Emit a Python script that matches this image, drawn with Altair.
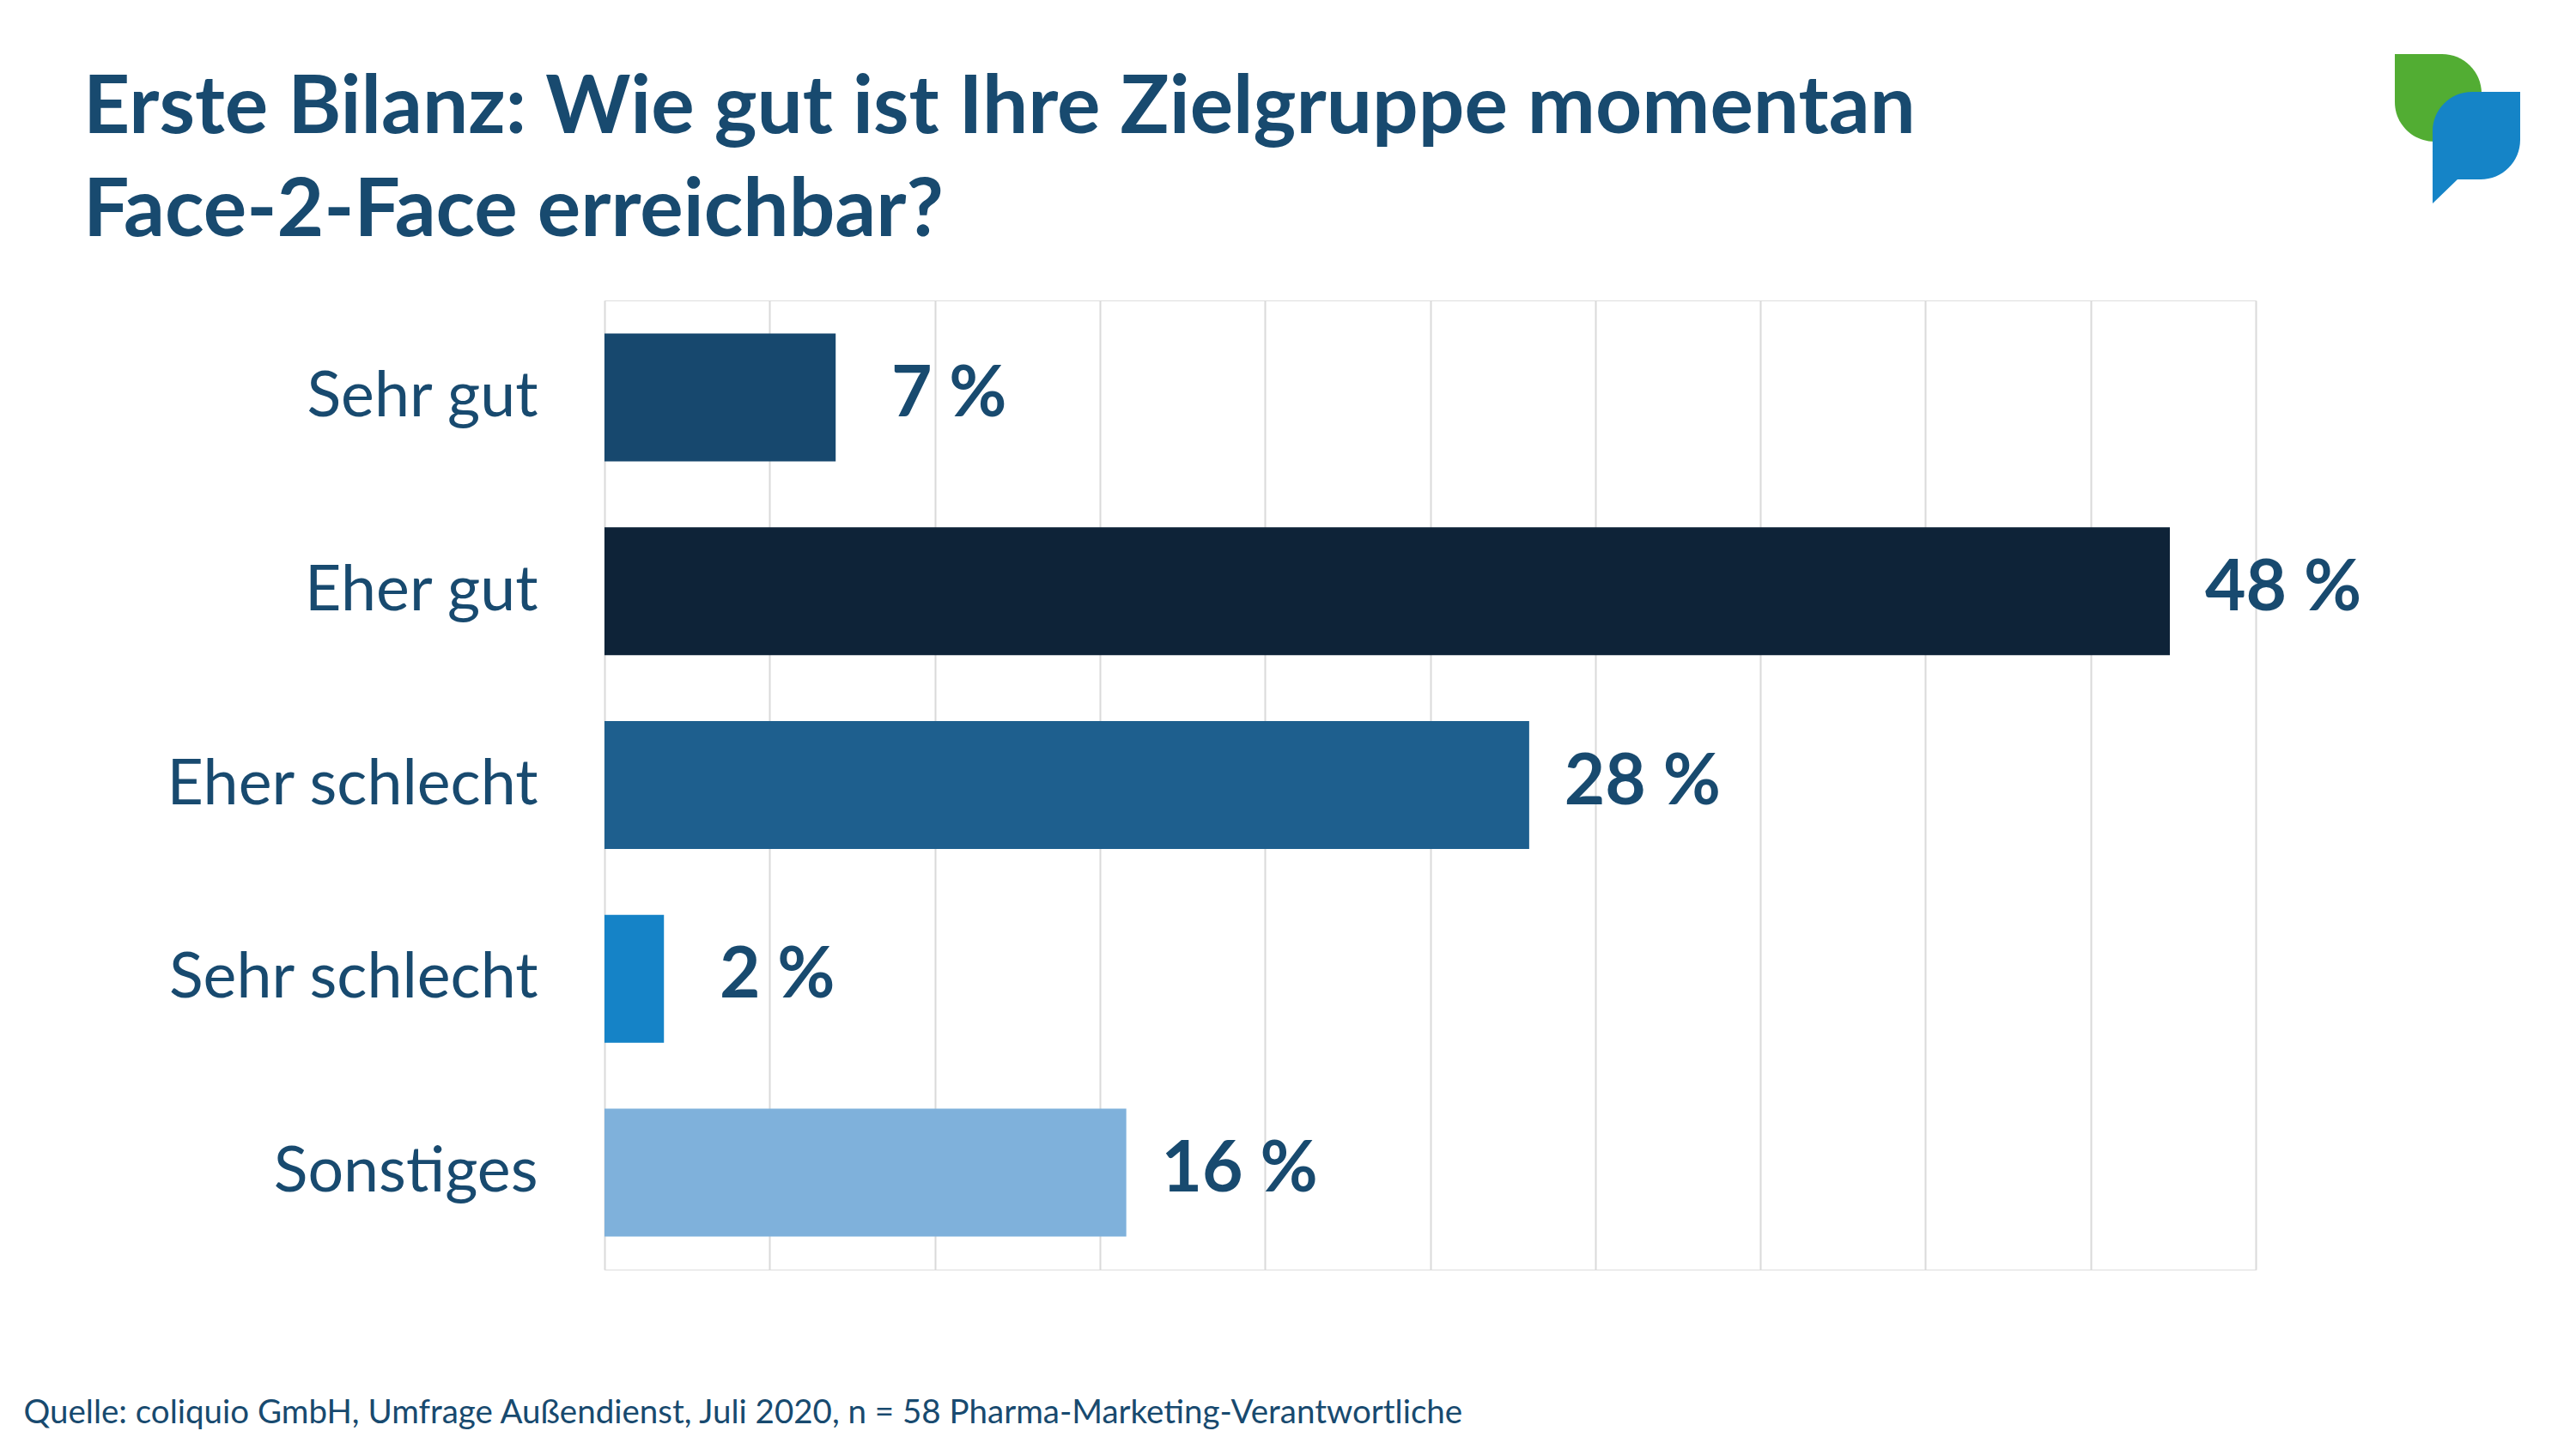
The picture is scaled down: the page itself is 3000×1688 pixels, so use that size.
import altair as alt
import pandas as pd

categories = ["Sehr gut", "Eher gut", "Eher schlecht", "Sehr schlecht", "Sonstiges"]
values = [7.0, 47.4, 28.0, 1.8, 15.8]
value_labels = ["7 %", "48 %", "28 %", "2 %", "16 %"]
bar_colors = ["#17486e", "#0e2338", "#1e5f8e", "#1583c7", "#7fb1db"]

title_lines = ["Erste Bilanz: Wie gut ist Ihre Zielgruppe momentan", "Face-2-Face erreichbar?"]
source_text = "Quelle: coliquio GmbH, Umfrage Außendienst, Juli 2020, n = 58 Pharma-Marketing-Verantwortliche"

TEXT_COLOR = "#184a6f"
FONT = "Lato"

df = pd.DataFrame({"cat": categories, "val": values, "lab": value_labels, "col": bar_colors})

W, H = 1923, 1129

y_enc = alt.Y(
    "cat:N",
    sort=categories,
    scale=alt.Scale(paddingInner=0.34, paddingOuter=0.17),
    axis=alt.Axis(
        title=None, domain=False, ticks=False, tickSize=0, labelPadding=78,
        labelFont=FONT, labelFontSize=73.5, labelColor=TEXT_COLOR, labelLimit=1000,
        labelBaseline="alphabetic", labelOffset=22, labelAlign="right",
    ),
)
x_enc = alt.X(
    "val:Q",
    scale=alt.Scale(domain=[0, 50], nice=False),
    axis=alt.Axis(
        values=list(range(0, 55, 5)), labels=False, ticks=False, domain=False,
        grid=True, gridColor="#dadada", gridWidth=2,
        title=source_text, titleFont=FONT, titleFontSize=38.5, titleFontWeight="normal",
        titleColor=TEXT_COLOR, titleAlign="left", titleBaseline="alphabetic",
        titleAnchor="start", titleX=-677, titleY=178, titleLimit=3000,
    ),
)

bars = alt.Chart(df).mark_bar().encode(
    x=x_enc, y=y_enc, color=alt.Color("col:N", scale=None)
)
texts = alt.Chart(df).mark_text(
    align="center", baseline="alphabetic", dx=132, dy=22,
    font=FONT, fontSize=82, fontWeight="bold", color=TEXT_COLOR,
).encode(x="val:Q", y=alt.Y("cat:N", sort=categories), text="lab:N")

green_path = "M -0.839 -1 L -0.207 -1 C 0.085 -1 0.322 -0.763 0.322 -0.471 L 0.322 0.172 L -0.310 0.172 C -0.602 0.172 -0.839 -0.064 -0.839 -0.356 Z"
blue_path = "M 0.195 -0.494 L 0.839 -0.494 L 0.839 0.149 C 0.839 0.441 0.602 0.678 0.310 0.678 L 0 0.678 L -0.333 1 L -0.333 0.034 C -0.333 -0.257 -0.097 -0.494 0.195 -0.494 Z"
logo_df = pd.DataFrame({"k": [0]})
logo_green = alt.Chart(logo_df).mark_point(
    shape=green_path, filled=True, size=30276, color="#52ad33", opacity=1, strokeWidth=0
).encode(x=alt.value(2158), y=alt.value(-200))
logo_blue = alt.Chart(logo_df).mark_point(
    shape=blue_path, filled=True, size=30276, color="#1584c7", opacity=1, strokeWidth=0
).encode(x=alt.value(2158), y=alt.value(-200))

chart = alt.layer(bars, texts, logo_green, logo_blue).properties(
    width=W, height=H,
    title=alt.Title(
        text=title_lines, anchor="start", frame="group", dx=-607,
        font=FONT, fontSize=94.5, fontWeight="bold", color=TEXT_COLOR,
        baseline="alphabetic", lineHeight=120, offset=0, dy=306,
    ),
    padding={"left": 696, "top": 342, "right": 355, "bottom": 190},
    autosize=alt.AutoSizeParams(type="none"),
).configure_view(stroke=None).configure(background="white")

chart.save("out.html", embed_options={"renderer": "svg", "actions": False})
